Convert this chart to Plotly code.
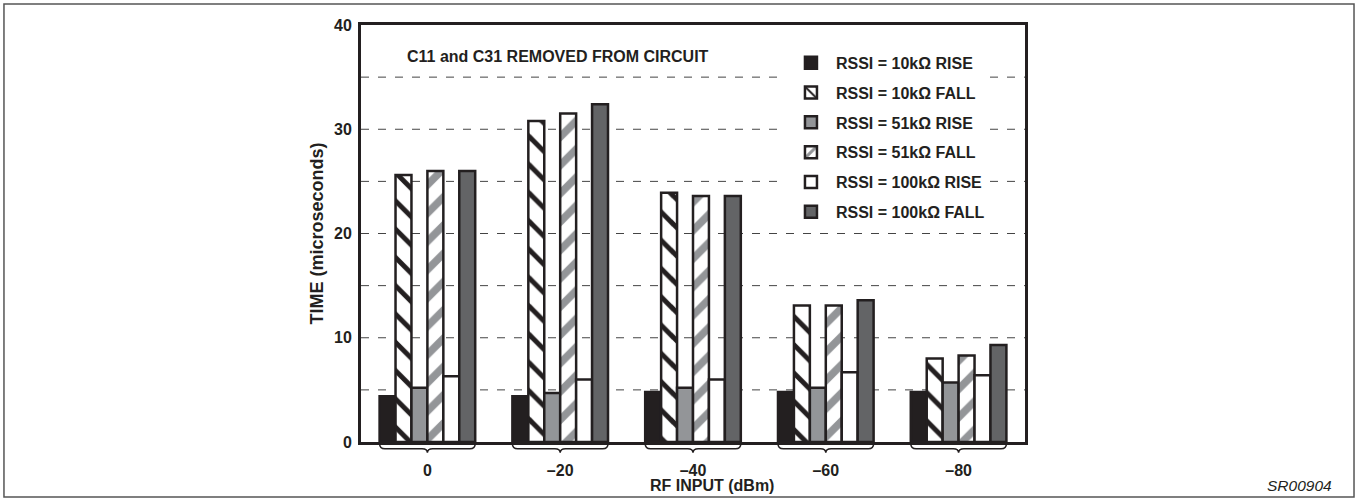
import plotly.graph_objects as go

categories = ["0", "–20", "–40", "–60", "–80"]
series_names = [
    "RSSI = 10kΩ RISE",
    "RSSI = 10kΩ FALL",
    "RSSI = 51kΩ RISE",
    "RSSI = 51kΩ FALL",
    "RSSI = 100kΩ RISE",
    "RSSI = 100kΩ FALL",
]
rise_10k = [4.4, 4.4, 4.8, 4.8, 4.8]
fall_10k = [25.6, 30.8, 23.9, 13.1, 8.0]
rise_51k = [5.2, 4.7, 5.2, 5.2, 5.7]
fall_51k = [26.0, 31.5, 23.6, 13.1, 8.3]
rise_100k = [6.3, 6.0, 6.0, 6.7, 6.4]
fall_100k = [26.0, 32.4, 23.6, 13.6, 9.3]
y_ticks = [0, 10, 20, 30, 40]
grid_vals = [5, 10, 15, 20, 25, 30, 35]

values = [rise_10k, fall_10k, rise_51k, fall_51k, rise_100k, fall_100k]
styles = [
    dict(color="#231f20"),
    dict(color="white", pattern=dict(shape="\\", fgcolor="#231f20", bgcolor="white", fgopacity=1,
                                     size=20, solidity=0.25, fillmode="replace")),
    dict(color="#939598"),
    dict(color="white", pattern=dict(shape="/", fgcolor="#939598", bgcolor="white", fgopacity=1,
                                     size=20, solidity=0.38, fillmode="replace")),
    dict(color="white"),
    dict(color="#636466"),
]

xidx = list(range(len(categories)))
fig = go.Figure()
for name, vals, st in zip(series_names, values, styles):
    marker = dict(line=dict(color="#231f20", width=2.5), **st)
    fig.add_trace(go.Bar(x=xidx, y=vals, name=name, marker=marker, legendgroup=name))

FONT = "Liberation Sans, Arial, Helvetica, sans-serif"

# grid lines (dashed) under the bars
for g in grid_vals:
    fig.add_shape(type="line", xref="paper", yref="y", x0=0, x1=1, y0=g, y1=g,
                  line=dict(color="#444", width=1, dash="8px,9px"), layer="below")

# braces under each group
for i in xidx:
    x0, x1, xc = i - 0.36, i + 0.36, i
    ya, yb, yc = -0.004, -0.016, -0.026
    d = (f"M{x0},{ya} Q{x0},{yb} {x0+0.04},{yb} L{xc-0.04},{yb} Q{xc},{yb} {xc},{yc} "
         f"Q{xc},{yb} {xc+0.04},{yb} L{x1-0.04},{yb} Q{x1},{yb} {x1},{ya}")
    fig.add_shape(type="path", xref="x", yref="paper", path=d,
                  line=dict(color="#231f20", width=1.5))

# outer frame
fig.add_shape(type="rect", xref="paper", yref="paper",
              x0=-0.5377, x1=1.4955, y0=-0.1319, y1=1.0504,
              line=dict(color="#555", width=1.5))

fig.add_annotation(text="C11 and C31 REMOVED FROM CIRCUIT", xref="paper", yref="paper",
                   x=0.066, y=0.925, xanchor="left", yanchor="middle", showarrow=False,
                   font=dict(family=FONT, size=16, color="#231f20", weight="bold"))
fig.add_annotation(text="RF INPUT (dBm)", xref="paper", yref="paper",
                   x=0.528, y=-0.105, xanchor="center", yanchor="middle", showarrow=False,
                   font=dict(family=FONT, size=16, color="#231f20", weight="bold"))
fig.add_annotation(text="SR00904", xref="paper", yref="paper",
                   x=1.4654, y=-0.105, xanchor="right", yanchor="middle", showarrow=False,
                   font=dict(family=FONT, size=15.5, color="#231f20", style="italic"))

fig.update_layout(
    width=1358, height=500,
    margin=dict(l=361, r=333, t=25, b=58),
    paper_bgcolor="white", plot_bgcolor="white",
    barmode="group", bargap=0.28, bargroupgap=0,
    font=dict(family=FONT, color="#231f20"),
    legend=dict(x=0.640, y=0.95, xanchor="left", yanchor="top", bgcolor="white",
                tracegroupgap=6, itemwidth=40,
                font=dict(family=FONT, size=16, color="#231f20", weight="bold")),
    xaxis=dict(range=[-0.5, 4.5], tickvals=xidx, ticktext=categories, showgrid=False,
               showline=True, linecolor="#231f20", linewidth=3, mirror=True,
               ticks="", tickfont=dict(family=FONT, size=16, weight="bold"),
               ticklabelstandoff=12, zeroline=False),
    yaxis=dict(range=[0, 40], tickvals=y_ticks, showgrid=False, zeroline=False,
               showline=True, linecolor="#231f20", linewidth=3, mirror=True,
               ticks="", tickfont=dict(family=FONT, size=16, weight="bold"),
               ticklabelstandoff=3,
               title=dict(text="TIME (microseconds)", standoff=6,
                          font=dict(family=FONT, size=18, weight="bold"))),
)

fig.write_html("out.html")
